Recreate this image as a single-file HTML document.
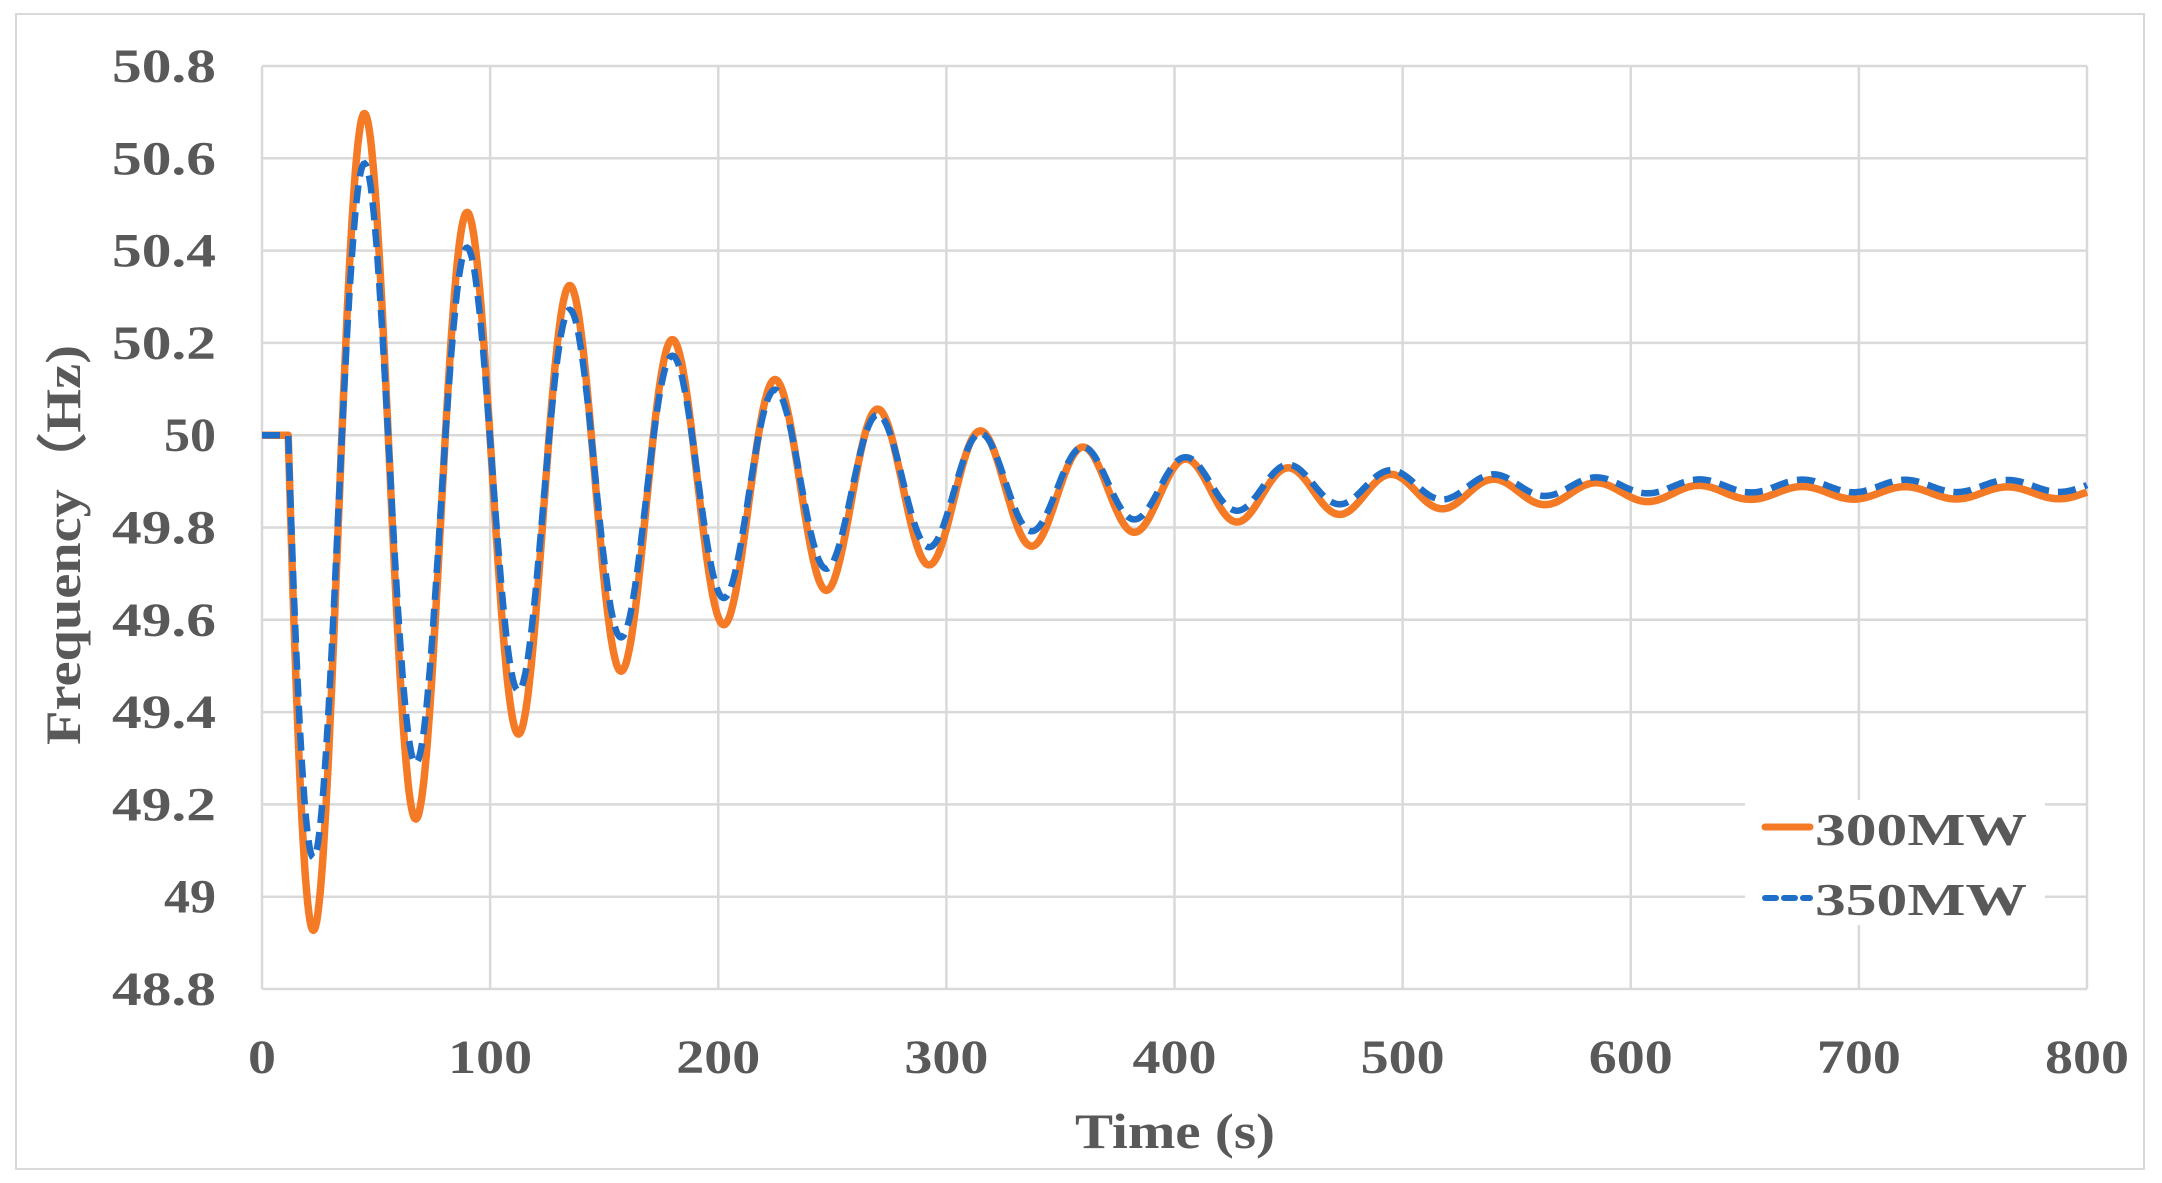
<!DOCTYPE html>
<html><head><meta charset="utf-8"><style>
html,body{margin:0;padding:0;background:#fff;}
svg{display:block;}
text{font-family:"Liberation Serif",serif;font-weight:bold;fill:#595959;}
</style></head><body>
<svg id="s" width="2162" height="1183" xmlns="http://www.w3.org/2000/svg">
<rect x="16" y="14" width="2128" height="1155" fill="#fff" stroke="#d9d9d9" stroke-width="2"/>
<g id="grid" stroke="#d9d9d9" stroke-width="2.5"></g>
<g id="lbl"></g>
<path id="o" fill="none" stroke="#f57a26" stroke-width="7.5" stroke-linejoin="round"/>
<path id="b" fill="none" stroke="#1f6fc9" stroke-width="6.5" stroke-dasharray="18 9"/>
<rect x="1745" y="800" width="300" height="125" fill="#fff"/>
<line x1="1765" y1="827" x2="1810" y2="827" stroke="#f57a26" stroke-width="7" stroke-linecap="round"/>
<line x1="1765" y1="898" x2="1810" y2="898" stroke="#1f6fc9" stroke-width="6" stroke-dasharray="11 8" stroke-linecap="round"/>
<text x="1815" y="845" font-size="46" textLength="212" lengthAdjust="spacingAndGlyphs">300MW</text>
<text x="1815" y="915" font-size="46" textLength="212" lengthAdjust="spacingAndGlyphs">350MW</text>
<text x="1175" y="1148" font-size="50" text-anchor="middle" textLength="200" lengthAdjust="spacingAndGlyphs">Time (s)</text>
<text transform="translate(80,545) rotate(-90)" font-size="50" text-anchor="middle" textLength="400" lengthAdjust="spacingAndGlyphs">Frequency（Hz)</text>
</svg>
<script>
var L=262,R=2087,T=66,B=989;
function X(t){return L+(R-L)*t/800;}
function Y(f){return T+(50.8-f)/2.0*(B-T);}
var g=document.getElementById('grid'),lb=document.getElementById('lbl'),ns='http://www.w3.org/2000/svg';
function el(p,n,a,txt){var e=document.createElementNS(ns,n);for(var k in a)e.setAttribute(k,a[k]);if(txt)e.textContent=txt;p.appendChild(e);}
for(var i=0;i<=10;i++){var f=48.8+0.2*i,y=Y(f);
 el(g,'line',{x1:L,x2:R,y1:y,y2:y});
 var s=(Math.round(f*10)/10).toString();
 el(lb,'text',{x:216,y:y+16,'font-size':48,'text-anchor':'end',textLength:s.length*26,lengthAdjust:'spacingAndGlyphs'},s);}
for(var i=0;i<=8;i++){var x=X(i*100);
 el(g,'line',{x1:x,x2:x,y1:T,y2:B});
 var s=String(i*100);
 el(lb,'text',{x:x,y:1073,'font-size':48,'text-anchor':'middle',textLength:s.length*28,lengthAdjust:'spacingAndGlyphs'},s);}
function path2(fin,A,tau){var t0=11.5;var d='M'+X(0)+' '+Y(50)+' L'+X(t0)+' '+Y(50);
 for(var t=t0;t<=800;t+=0.5){var u=t-t0;var amp=A*Math.exp(-u/tau);amp=Math.max(amp,0.01+0.02*Math.exp(-u/400));
  var off=(50-fin)*Math.exp(-u/4);
  var f=fin+off-amp*Math.sin(2*Math.PI*u/45);
  d+=' L'+X(t).toFixed(1)+' '+Y(f).toFixed(1);}
 return d;}
document.getElementById('o').setAttribute('d',path2(49.875,1.03,149));
document.getElementById('b').setAttribute('d',path2(49.89,0.875,149));
</script>
</body></html>
